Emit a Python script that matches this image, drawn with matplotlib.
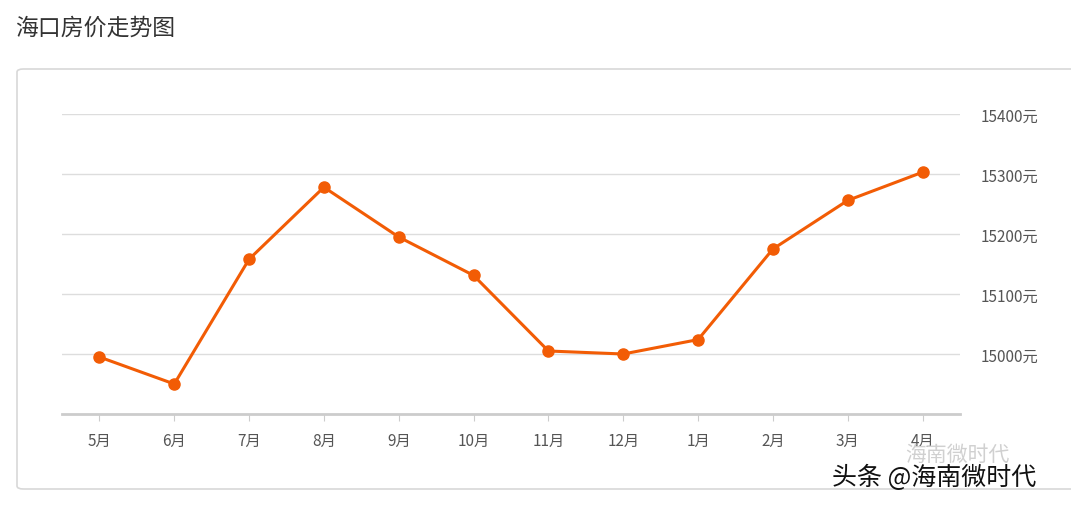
import matplotlib
matplotlib.use("Agg")
import matplotlib.pyplot as plt
from matplotlib.patches import FancyBboxPatch

plt.rcParams['font.family'] = ['Noto Sans CJK SC', 'DejaVu Sans']

months = ['5月','6月','7月','8月','9月','10月','11月','12月','1月','2月','3月','4月']
prices = [14995, 14950, 15158, 15278, 15195, 15131, 15005, 15000, 15024, 15175, 15256, 15303]
yticks = [15000, 15100, 15200, 15300, 15400]
ytick_labels = [f'{v}元' for v in yticks]

W, H = 1071, 506
fig = plt.figure(figsize=(W/100, H/100), dpi=100)
fig.patch.set_facecolor('white')

fig.text(15/W, 1-28/H, '海口房价走势图', fontsize=16.5, color='#333333', va='center', ha='left')
box = FancyBboxPatch((17/W, 1-490/H), (1080-17)/W, (490-70)/H, boxstyle='round,pad=0,rounding_size=0.006',
                     transform=fig.transFigure, fill=False, edgecolor='#d8d8d8', linewidth=1.2)
fig.patches.append(box)

ax = fig.add_axes([62/W, 1-415/H, (960-62)/W, (415-115)/H])
x = list(range(len(months)))
ax.plot(x, prices, color='#f25c05', linewidth=2.2, marker='o', markersize=8, zorder=3)
ax.set_xlim(-0.5, 11.5)
ax.set_ylim(14900, 15400)
ax.set_yticks(yticks)
ax.set_yticklabels(ytick_labels)
ax.yaxis.tick_right()
ax.tick_params(axis='y', length=0, pad=15, labelsize=11, labelcolor='#555555')
ax.set_xticks(x)
ax.set_xticklabels(months)
ax.tick_params(axis='x', length=5, color='#cccccc', pad=8, labelsize=11, labelcolor='#555555')
ax.grid(axis='y', color='#dddddd', linewidth=1)
for s in ['top', 'left', 'right']:
    ax.spines[s].set_visible(False)
ax.spines['bottom'].set_color('#cccccc')
ax.spines['bottom'].set_linewidth(2)

fig.text(905/W, 1-455/H, '海南微时代', fontsize=15, color='#d0d0d0', va='center', ha='left')
fig.text(832/W, 1-478/H, '头条 @海南微时代', fontsize=18, color='#111111', va='center', ha='left')

fig.savefig('out.png', dpi=100)
